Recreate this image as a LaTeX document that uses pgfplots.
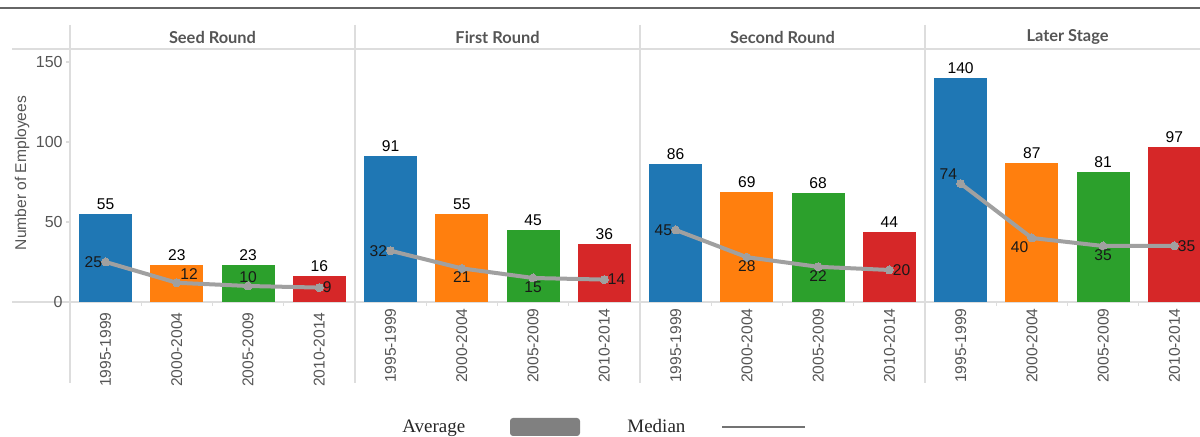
\documentclass[border=0pt]{standalone}
\usepackage{pgfplots}
\usepackage{pgfplotstable}
\pgfplotsset{compat=1.18}
\usepackage{fontspec}
\setmainfont{Liberation Sans}
\newfontfamily\hdrfont{Lato}
\newfontfamily\legfont{Liberation Serif}
\definecolor{tblue}{HTML}{1F77B4}
\definecolor{torange}{HTML}{FF7F0E}
\definecolor{tgreen}{HTML}{2CA02C}
\definecolor{tred}{HTML}{D62728}
\definecolor{medgray}{HTML}{A0A0A0}
\definecolor{linegray}{HTML}{DDDDDD}
\definecolor{txtgray}{HTML}{555555}
\definecolor{hdrgray}{HTML}{555555}

\pgfplotstableread{
x avg med
0.5 55 25
1.5 23 12
2.5 23 10
3.5 16 9
}\seedtab
\pgfplotstableread{
x avg med
0.5 91 32
1.5 55 21
2.5 45 15
3.5 36 14
}\firsttab
\pgfplotstableread{
x avg med
0.5 86 45
1.5 69 28
2.5 68 22
3.5 44 20
}\secondtab
\pgfplotstableread{
x avg med
0.5 140 74
1.5 87 40
2.5 81 35
3.5 97 35
}\latertab

\pgfplotsset{
 /pgf/number format/assume math mode=true,
 panel/.style={
  scale only axis, height=126.5pt, ymin=0, ymax=158.125, xmin=0,
  anchor=south west,
  separate axis lines, axis line style={draw=none},
  xtick={0.5,1.5,2.5,3.5},
  xticklabels={1995-1999,2000-2004,2005-2009,2010-2014},
  xtick style={draw=none},
  xticklabel style={rotate=90, anchor=east, font=\fontsize{7.8}{9}\selectfont, text=txtgray, inner sep=3pt},
  ytick=\empty,
 },
 only0/.style={skip coords between index={1}{4}},
 only1/.style={skip coords between index={0}{1}, skip coords between index={2}{4}},
 only2/.style={skip coords between index={0}{2}, skip coords between index={3}{4}},
 only3/.style={skip coords between index={0}{3}},
 barbase/.style={ybar, bar width=0.744, bar shift=0pt, draw=none,
   nodes near coords,
   every node near coord/.append style={font=\fontsize{7.8}{9}\selectfont, text=black, anchor=south, inner sep=2pt}},
 medline/.style={medgray, line width=2pt, mark=*, mark size=2pt,
   mark options={fill=medgray, draw=medgray, line width=0pt}},
 medlab/.style={draw=none, mark=none, nodes near coords, point meta=explicit,
   every node near coord/.append style={font=\fontsize{7.8}{9}\selectfont, text=black!90, inner sep=1.6pt}},
}

% #1 table, #2-#5 anchors of the median labels
\newcommand{\panel}[5]{%
 \addplot[barbase, fill=tblue, only0] table[x=x,y=avg]{#1};
 \addplot[barbase, fill=torange, only1] table[x=x,y=avg]{#1};
 \addplot[barbase, fill=tgreen, only2] table[x=x,y=avg]{#1};
 \addplot[barbase, fill=tred, only3] table[x=x,y=avg]{#1};
 \addplot[medline] table[x=x,y=med]{#1};
 \addplot[medlab, only0, every node near coord/.append style={anchor=#2}] table[x=x,y=med,meta=med]{#1};
 \addplot[medlab, only1, every node near coord/.append style={anchor=#3}] table[x=x,y=med,meta=med]{#1};
 \addplot[medlab, only2, every node near coord/.append style={anchor=#4}] table[x=x,y=med,meta=med]{#1};
 \addplot[medlab, only3, every node near coord/.append style={anchor=#5}] table[x=x,y=med,meta=med]{#1};
}

\begin{document}
\begin{tikzpicture}
\useasboundingbox (0,0) rectangle (600pt,218.5pt);
\begin{scope}[x=0.5pt,y=-0.5pt,yshift=218.5pt]
 \draw[color=black!60, line width=1pt] (0,8.5) -- (1200,8.5);
 \draw[linegray, line width=0.6pt] (12,49) -- (1200,49);
 \draw[linegray, line width=0.6pt] (12,302) -- (1200,302);
 \foreach \xx in {70,355,640,925} {
   \draw[linegray, line width=0.6pt] (\xx,25) -- (\xx,383);
   \foreach \k in {1,2,3} {
     \draw[linegray, line width=0.6pt] ({\xx+71.25*\k},302) -- ({\xx+71.25*\k},306);
   }
 }
 \node[font=\hdrfont\bfseries\fontsize{8.2}{10}\selectfont, text=hdrgray] at (212.5,37) {Seed Round};
 \node[font=\hdrfont\bfseries\fontsize{8.2}{10}\selectfont, text=hdrgray] at (497.5,37) {First Round};
 \node[font=\hdrfont\bfseries\fontsize{8.2}{10}\selectfont, text=hdrgray] at (782.5,37) {Second Round};
 \node[font=\hdrfont\bfseries\fontsize{8.2}{10}\selectfont, text=hdrgray] at (1067.5,37) {Later Stage};
 \node[rotate=90, font=\fontsize{7.8}{9}\selectfont, text=txtgray] at (22,173) {Number of Employees};
 % legend
 \node[font=\legfont\fontsize{9.5}{11}\selectfont, text=black!85, anchor=base west, inner sep=0pt] at (402,433) {Average};
 \fill[black!50, rounded corners=1.5pt] (510,418) rectangle (580,436);
 \node[font=\legfont\fontsize{9.5}{11}\selectfont, text=black!85, anchor=base west, inner sep=0pt] at (627,433) {Median};
 \draw[black!55, line width=0.8pt] (722,427) -- (805,427);
\end{scope}

\begin{axis}[panel, at={(35pt,67.5pt)}, width=142.5pt, xmax=4,
  ytick={0,50,100,150}, ytick pos=left, tick align=outside, major tick length=2pt,
  ytick style={draw=linegray, line width=0.6pt},
  yticklabel style={font=\fontsize{8}{9}\selectfont, text=txtgray, inner sep=1.5pt}]
 \panel{\seedtab}{east}{south west}{south}{west}
\end{axis}
\begin{axis}[panel, at={(177.5pt,67.5pt)}, width=142.5pt, xmax=4]
 \panel{\firsttab}{east}{north}{north}{west}
\end{axis}
\begin{axis}[panel, at={(320pt,67.5pt)}, width=142.5pt, xmax=4]
 \panel{\secondtab}{east}{north}{north}{west}
\end{axis}
\begin{axis}[panel, at={(462.5pt,67.5pt)}, width=137.5pt, xmax=3.8596]
 \panel{\latertab}{south east}{north east}{north}{west}
\end{axis}
\end{tikzpicture}
\end{document}
